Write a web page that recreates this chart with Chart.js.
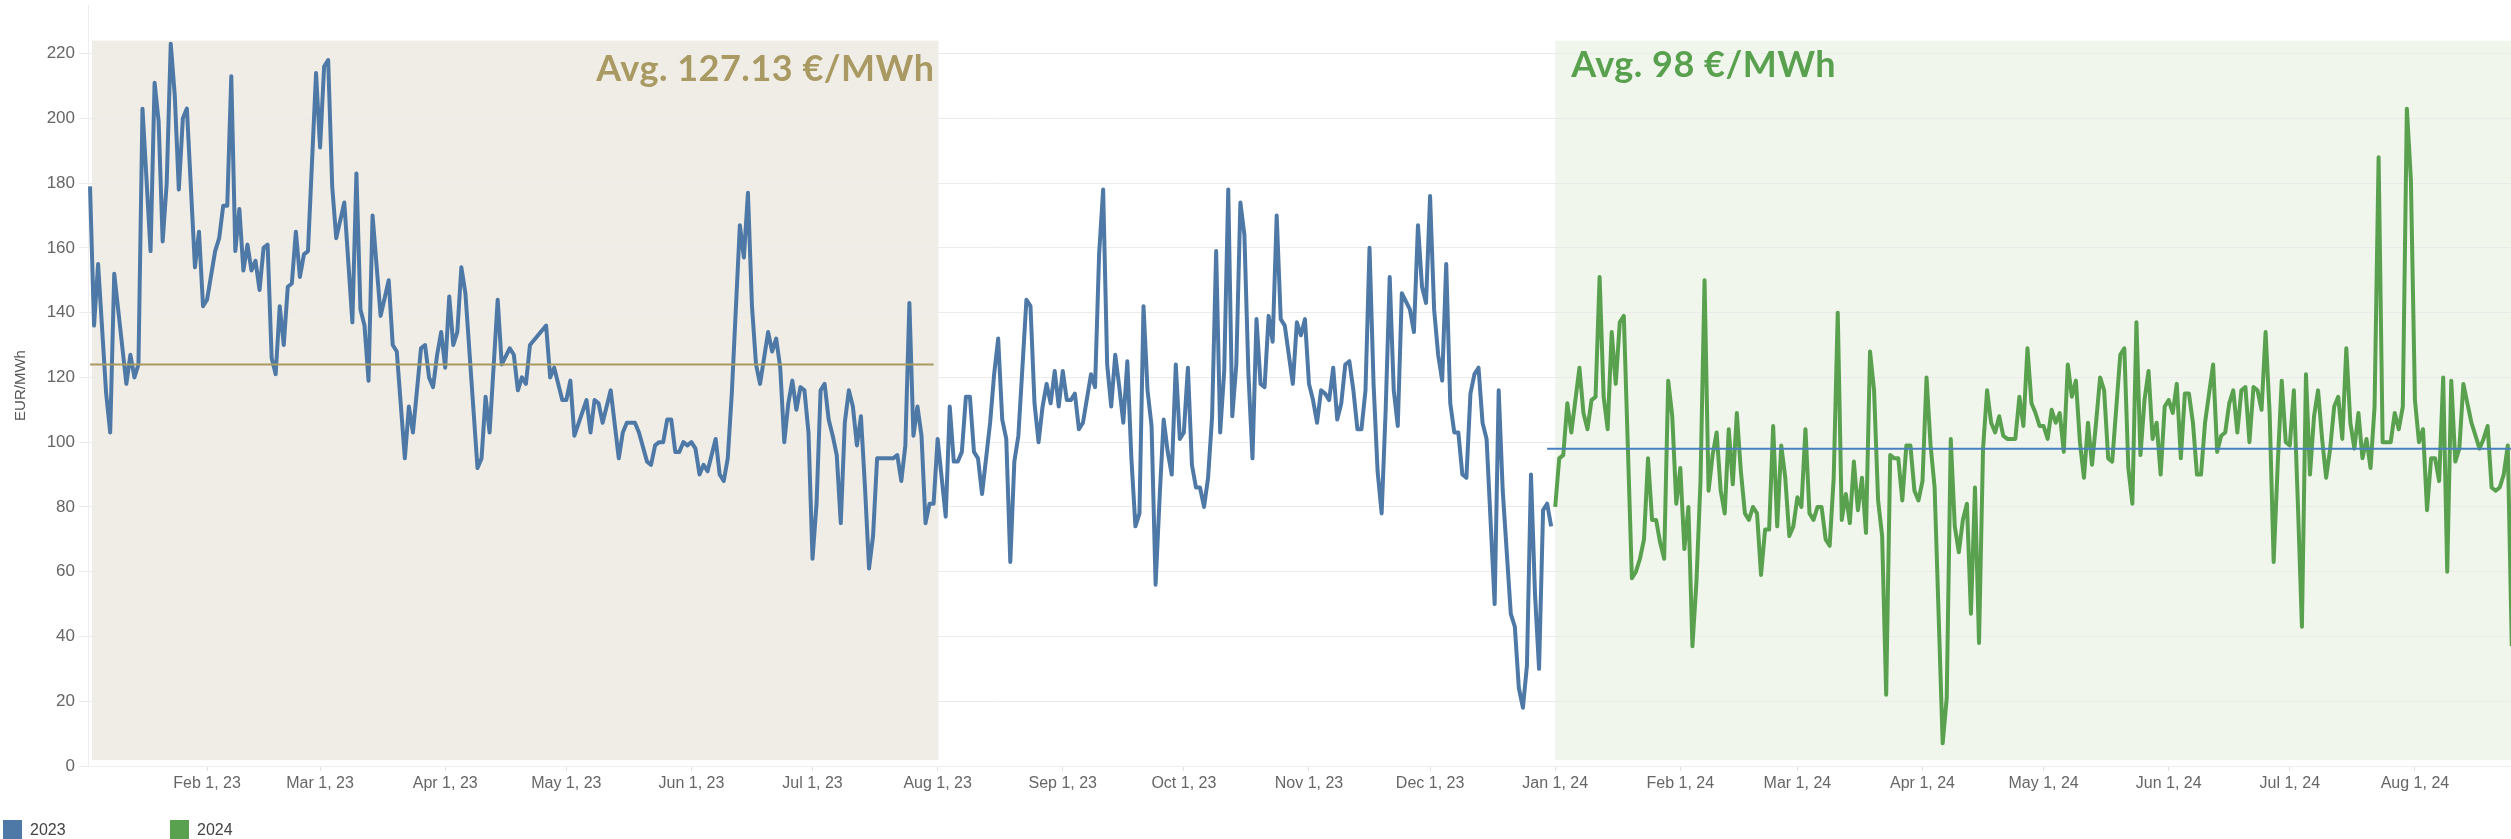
<!DOCTYPE html>
<html>
<head>
    <title>Day-ahead price 2023 / 2024</title>
    <style type="text/css">
        body { margin: 0; background: #ffffff; }
        .wrap { position: relative; width: 2511px; height: 839px; }
        .legend { position: absolute; top: 820px; font: 16px "Liberation Sans", Arial, sans-serif; color: #444; }
        .legend span.box { position: absolute; top: 0; width: 19px; height: 19px; }
        .legend span.txt { position: absolute; top: 0px; line-height: 19px; }
    </style>
    <script src="https://cdnjs.cloudflare.com/ajax/libs/Chart.js/4.4.1/chart.umd.min.js"></script>
</head>
<body>
<div class="wrap">
    <canvas id="Chart" width="2511" height="839"></canvas>
    <div class="legend" id="legend"></div>
</div>
<script>
    // days are counted from Jan 1, 2023 (day 0)
    var days2023 = [
        2, 3, 4, 6, 7, 8, 11, 12, 13, 14, 15, 17, 18, 19, 20, 21, 22, 23, 24, 25, 26, 28, 29, 30, 31,
        33, 34, 35, 36, 37, 38, 39, 40, 41, 42, 43, 44, 45, 46, 47, 48, 49, 50, 51, 52, 53, 54, 55, 56,
        58, 59, 60, 61, 62, 63, 65, 67, 68, 69, 70, 71, 72, 74, 76, 77, 78, 80, 81, 82, 84, 85, 86, 87,
        88, 89, 90, 91, 92, 93, 94, 95, 98, 99, 100, 101, 103, 104, 106, 107, 108, 109, 110, 111, 113,
        115, 116, 117, 119, 120, 121, 122, 125, 126, 127, 128, 129, 131, 133, 134, 135, 137, 138, 140,
        141, 142, 143, 144, 145, 146, 147, 148, 149, 150, 151, 152, 153, 154, 155, 157, 158, 159, 160,
        161, 163, 164, 165, 166, 167, 168, 169, 170, 171, 172, 173, 174, 175, 176, 177, 178, 179, 180,
        181, 182, 183, 184, 185, 186, 187, 188, 189, 190, 191, 192, 193, 194, 195, 196, 197, 198, 199,
        201, 202, 203, 204, 205, 206, 207, 208, 209, 210, 211, 212, 214, 215, 216, 217, 218, 219, 220,
        221, 222, 223, 225, 226, 227, 228, 229, 230, 231, 232, 234, 235, 236, 237, 238, 239, 240, 241,
        242, 243, 244, 245, 246, 247, 248, 250, 251, 252, 253, 254, 255, 256, 257, 258, 259, 260, 261,
        262, 263, 264, 265, 266, 267, 268, 269, 270, 271, 272, 273, 274, 275, 276, 277, 278, 279, 280,
        281, 282, 283, 284, 285, 286, 287, 288, 289, 290, 291, 292, 293, 294, 295, 296, 297, 298, 299,
        300, 301, 302, 303, 304, 305, 306, 307, 308, 309, 310, 311, 312, 313, 314, 315, 316, 317, 318,
        319, 320, 321, 322, 323, 324, 325, 326, 327, 329, 330, 331, 332, 333, 334, 335, 336, 337, 338,
        339, 340, 341, 342, 343, 344, 345, 346, 347, 348, 350, 351, 352, 354, 355, 356, 357, 358, 359,
        360, 361, 362, 363, 364
    ];
    var prices2023 = [
        179, 136, 155, 115, 103, 152, 118, 127, 120, 124, 203, 159, 211, 199, 162, 180, 223, 207, 178, 200, 203, 154, 165, 142, 144,
        159, 163, 173, 173, 213, 159, 172, 153, 161, 153, 156, 147, 160, 161, 126, 121, 142, 130, 148, 149, 165, 151, 158, 159,
        214, 191, 216, 218, 179, 163, 174, 137, 183, 141, 136, 119, 170, 139, 150, 130, 128, 95, 111, 103, 129, 130, 120, 117,
        127, 134, 123, 145, 130, 134, 154, 146, 92, 95, 114, 103, 144, 124, 129, 127, 116, 120, 118, 130, 133,
        136, 120, 123, 113, 113, 119, 102, 113, 103, 113, 112, 106, 116, 95, 103, 106, 106, 103, 94,
        93, 99, 100, 100, 107, 107, 97, 97, 100, 99, 100, 98, 90, 93, 91, 101, 90, 88, 95,
        115, 167, 157, 177, 142, 124, 118, 126, 134, 128, 132, 123, 100, 112, 119, 110, 117, 116, 103,
        64, 81, 116, 118, 107, 102, 96, 75, 106, 116, 111, 99, 108, 86, 61, 71, 95, 95, 95,
        95, 96, 88, 99, 143, 102, 111, 102, 75, 81, 81, 101, 77, 111, 94, 94, 97, 114, 114,
        97, 95, 84, 106, 121, 132, 107, 101, 63, 94, 102, 144, 142, 112, 100, 111, 118, 112, 122,
        111, 122, 113, 113, 115, 104, 106, 121, 117, 158, 178, 124, 111, 127, 117, 106, 125, 95, 74,
        78, 142, 116, 105, 56, 83, 107, 97, 90, 124, 101, 103, 123, 93, 86, 86, 80, 89, 108,
        159, 103, 122, 178, 108, 124, 174, 164, 121, 95, 138, 118, 117, 139, 131, 170, 138, 136, 127,
        118, 137, 133, 138, 118, 113, 106, 116, 115, 113, 123, 107, 112, 124, 125, 116, 104, 104, 116,
        160, 118, 91, 78, 110, 151, 116, 105, 146, 141, 134, 167, 148, 143, 176, 141, 127, 119, 155,
        112, 103, 103, 90, 89, 115, 121, 123, 106, 101, 50, 116, 85, 47, 43, 24, 18, 31, 90,
        53, 30, 79, 81, 74
    ];
    var days2024 = [];
    for (var d = 365; d <= 602; d++) { if (d !== 370 && d !== 383 && d !== 460 && d !== 478 && d !== 504) days2024.push(d); }
    var prices2024 = [
        80, 95, 96, 112, 103, 123, 109, 104, 113, 114, 151, 114, 104, 134, 118, 137, 139,
        58, 60, 64, 70, 95, 76, 76, 69, 64, 119, 108, 81, 92, 67, 80, 37, 57, 88, 150,
        85, 96, 103, 85, 78, 104, 87, 109, 91, 78, 76, 80, 78, 59, 73, 73, 105, 74, 99, 89,
        71, 74, 83, 80, 104, 78, 76, 80, 80, 70, 68, 89, 140, 76, 84, 75, 94, 79, 89, 72,
        128, 116, 82, 71, 22, 96, 95, 95, 82, 99, 99, 85, 82, 88, 120, 99, 86,
        7, 21, 101, 74, 66, 76, 81, 47, 86, 38, 98, 116, 106, 103, 108, 102, 101,
        101, 114, 105, 129, 112, 109, 105, 105, 101, 110, 106, 109, 97, 124, 114, 119, 100, 89,
        106, 93, 106, 120, 116, 95, 94, 127, 129, 92, 81, 137, 96, 113, 122, 101, 106,
        90, 111, 113, 109, 118, 95, 115, 115, 106, 90, 90, 106, 115, 124, 97, 102, 103, 112,
        116, 103, 116, 117, 100, 117, 116, 110, 134, 109, 63, 93, 119, 100, 99, 116, 81, 43,
        121, 90, 108, 116, 101, 89, 98, 111, 114, 101, 129, 106, 98, 109, 95, 101, 92, 111,
        188, 100, 100, 100, 109, 104, 111, 203, 181, 113, 100, 104, 79, 95, 95, 88, 120, 60,
        119, 94, 98, 118, 112, 106, 102, 98, 101, 105, 86, 85, 86, 90, 99, 37
    ];

    // month ticks on the time axis
    var tickDays = [31, 59, 90, 120, 151, 181, 212, 243, 273, 304, 334, 365, 396, 425, 456, 486, 517, 547, 578];
    var tickLabels = ['Feb 1, 23', 'Mar 1, 23', 'Apr 1, 23', 'May 1, 23', 'Jun 1, 23', 'Jul 1, 23', 'Aug 1, 23',
        'Sep 1, 23', 'Oct 1, 23', 'Nov 1, 23', 'Dec 1, 23', 'Jan 1, 24', 'Feb 1, 24', 'Mar 1, 24',
        'Apr 1, 24', 'May 1, 24', 'Jun 1, 24', 'Jul 1, 24', 'Aug 1, 24'];

    // average bands: [from day, to day]
    var band2023 = [2.5, 212.2];
    var band2024 = [365, 602];
    var avgLine2023 = [2, 211, 124];
    var avgLine2024 = [363, 602, 98];
    var avgText2023 = 'Avg. 127.13 €/MWh';
    var avgText2024 = 'Avg. 98 €/MWh';

    var BLUE = '#4e79a7', GREEN = '#59a14f', TAN = '#a99a63';

    function pairs(xs, ys) {
        return xs.map(function(x, i) { return {x: x, y: ys[i]}; });
    }

    // shaded periods behind the grid, and the average captions on top
    var bandsPlugin = {
        id: 'bands',
        beforeDraw: function(chart) {
            var c = chart.ctx, x = chart.scales.x, y = chart.scales.y;
            var top = y.getPixelForValue(224), bottom = y.getPixelForValue(1.8);
            c.save();
            c.fillStyle = '#f0ede6';
            c.fillRect(x.getPixelForValue(band2023[0]), top,
                x.getPixelForValue(band2023[1]) - x.getPixelForValue(band2023[0]), bottom - top);
            c.fillStyle = '#f0f6ec';
            c.fillRect(x.getPixelForValue(band2024[0]), top,
                x.getPixelForValue(band2024[1]) - x.getPixelForValue(band2024[0]), bottom - top);
            c.restore();
        },
        afterDraw: function(chart) {
            var c = chart.ctx, x = chart.scales.x, area = chart.chartArea;
            c.save();
            c.font = 'bold 36px Lato, "Open Sans", sans-serif';
            c.letterSpacing = '0.5px';
            c.textBaseline = 'alphabetic';
            c.fillStyle = TAN;
            c.textAlign = 'right';
            c.fillText(avgText2023, x.getPixelForValue(band2023[1]) - 4, area.top + 76);
            c.fillStyle = GREEN;
            c.textAlign = 'left';
            c.fillText(avgText2024, x.getPixelForValue(band2024[0]) + 16, area.top + 72);
            c.restore();
        }
    };

    var ctx = document.getElementById('Chart').getContext('2d');
    var chart = new Chart(ctx, {
        type: 'line',
        data: {
            datasets: [{
                label: 'avg 2023',
                data: [{x: avgLine2023[0], y: avgLine2023[2]}, {x: avgLine2023[1], y: avgLine2023[2]}],
                borderColor: '#a89a60',
                borderWidth: 2,
                order: 0
            }, {
                label: 'avg 2024',
                data: [{x: avgLine2024[0], y: avgLine2024[2]}, {x: avgLine2024[1], y: avgLine2024[2]}],
                borderColor: '#4a80c0',
                borderWidth: 2,
                order: 0
            }, {
                label: '2023',
                data: pairs(days2023, prices2023),
                borderColor: BLUE,
                borderWidth: 4,
                order: 1
            }, {
                label: '2024',
                data: pairs(days2024, prices2024),
                borderColor: GREEN,
                borderWidth: 4,
                order: 1
            }]
        },
        options: {
            responsive: false,
            animation: false,
            layout: { padding: { top: 5, right: 0, bottom: 0, left: 0 } },
            elements: { point: { radius: 0 }, line: { tension: 0, borderJoinStyle: 'round' } },
            plugins: { legend: { display: false }, tooltip: { enabled: false } },
            scales: {
                x: {
                    type: 'linear',
                    min: 1.5,
                    max: 601.8,
                    afterBuildTicks: function(scale) {
                        scale.ticks = tickDays.map(function(v) { return {value: v}; });
                    },
                    afterFit: function(scale) {
                        scale.height = 73;
                        scale.paddingLeft = 0;
                        scale.paddingRight = 0;
                    },
                    ticks: {
                        autoSkip: false,
                        maxRotation: 0,
                        padding: 3,
                        color: '#666',
                        font: { family: '"Liberation Sans", Arial, sans-serif', size: 16 },
                        callback: function(v) {
                            var i = tickDays.indexOf(v);
                            return i >= 0 ? tickLabels[i] : '';
                        }
                    },
                    grid: { drawOnChartArea: false, tickLength: 5, color: '#e2e2e2' },
                    border: { color: '#eeeeee' }
                },
                y: {
                    min: 0,
                    max: 235,
                    afterBuildTicks: function(scale) {
                        scale.ticks = scale.ticks.filter(function(t) { return t.value <= 220; });
                    },
                    afterFit: function(scale) {
                        scale.width = 88;
                        scale.paddingTop = 0;
                        scale.paddingBottom = 0;
                    },
                    ticks: {
                        stepSize: 20,
                        padding: 4,
                        color: '#666',
                        font: { family: '"Liberation Sans", Arial, sans-serif', size: 17 }
                    },
                    title: {
                        display: true,
                        text: 'EUR/MWh',
                        color: '#555',
                        padding: { top: 12, bottom: 0 },
                        font: { family: '"Liberation Sans", Arial, sans-serif', size: 15 }
                    },
                    grid: { color: '#ebebeb', tickLength: 9 },
                    border: { color: '#eeeeee' }
                }
            }
        },
        plugins: [bandsPlugin]
    });

    // legend under the chart
    var legendItems = [['2023', BLUE, 3], ['2024', GREEN, 170]];
    var legendHtml = '';
    legendItems.forEach(function(item) {
        legendHtml += '<span class="box" style="left:' + item[2] + 'px;background:' + item[1] + '"></span>';
        legendHtml += '<span class="txt" style="left:' + (item[2] + 27) + 'px">' + item[0] + '</span>';
    });
    document.getElementById('legend').innerHTML = legendHtml;
</script>
</body>
</html>
